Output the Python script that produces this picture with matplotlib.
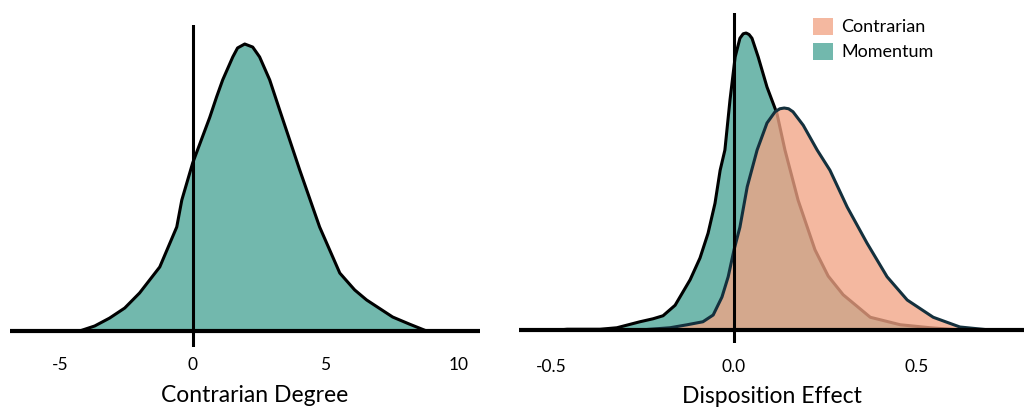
import matplotlib.pyplot as plt
from matplotlib.patches import Patch

plt.rcParams['font.family'] = ['Lato', 'DejaVu Sans']

TEAL = '#72B8AD'
SALMON = '#F1A485'

# left panel: contrarian degree density
degree_x = [-4.26, -3.69, -3.13, -2.56, -2.00, -1.24, -0.60, -0.41, 0.0, 0.64,
            0.90, 1.13, 1.51, 1.69, 1.96, 2.26, 2.52, 2.90, 3.28, 4.03,
            4.78, 5.54, 6.10, 6.55, 7.53, 8.17, 8.81]
degree_y = [0.0, 0.0028, 0.0072, 0.0128, 0.0212, 0.0357, 0.058, 0.073, 0.0937, 0.119,
            0.1305, 0.140, 0.1528, 0.1578, 0.160, 0.1583, 0.1528, 0.140, 0.123, 0.0898,
            0.058, 0.0323, 0.0229, 0.0173, 0.0078, 0.0038, 0.0]
degree_ticks = [-5, 0, 5, 10]

# right panel: disposition effect densities
mom_x = [-0.48, -0.456, -0.366, -0.320, -0.257, -0.221, -0.194, -0.161, -0.120, -0.093,
         -0.071, -0.052, -0.038, -0.025, -0.011, 0.003, 0.016, 0.025, 0.033, 0.041,
         0.049, 0.066, 0.090, 0.117, 0.139, 0.175, 0.221, 0.257, 0.298, 0.372,
         0.454, 0.536, 0.617]
mom_y = [0.0, 0.01, 0.01, 0.03, 0.11, 0.15, 0.19, 0.33, 0.67, 0.96,
         1.29, 1.69, 2.13, 2.40, 3.07, 3.64, 3.89, 3.95, 3.96, 3.94,
         3.89, 3.64, 3.24, 2.89, 2.40, 1.73, 1.07, 0.72, 0.47, 0.17,
         0.07, 0.03, 0.0]

con_x = [-0.257, -0.175, -0.128, -0.085, -0.057, -0.033, -0.016, 0.000, 0.016, 0.036,
         0.063, 0.090, 0.112, 0.125, 0.137, 0.149, 0.161, 0.189, 0.227, 0.262,
         0.309, 0.363, 0.418, 0.473, 0.544, 0.617, 0.699]
con_y = [0.0, 0.03, 0.07, 0.11, 0.20, 0.44, 0.71, 1.07, 1.37, 1.91,
         2.40, 2.76, 2.91, 2.95, 2.96, 2.95, 2.91, 2.73, 2.40, 2.13,
         1.64, 1.16, 0.71, 0.40, 0.17, 0.04, 0.0]
disp_ticks = [-0.5, 0.0, 0.5]

fig = plt.figure(figsize=(10.24, 4.08), dpi=100)

# left axes
ax1 = fig.add_axes([10 / 1024, 61 / 408, 470 / 1024, 322 / 408])
ax1.fill_between(degree_x, degree_y, 0, color=TEAL, lw=0, zorder=1)
ax1.plot(degree_x, degree_y, color='black', lw=2.2, zorder=2, solid_joinstyle='round')
ax1.axvline(0, color='black', lw=2.2, zorder=5)
ax1.axhline(0, color='black', lw=3, zorder=6)
ax1.set_xlim(-6.88, 10.82)
ax1.set_ylim(-0.00892, 0.1706)
ax1.set_xticks(degree_ticks)
ax1.set_xticklabels([str(t) for t in degree_ticks])
ax1.set_yticks([])
ax1.tick_params(axis='x', length=0, pad=7.5, labelsize=12.5)
ax1.set_xlabel('Contrarian Degree', fontsize=16.5, labelpad=8)
ax1.xaxis.label.set_x(0.521)
for s in ax1.spines.values():
    s.set_visible(False)

# right axes
ax2 = fig.add_axes([519 / 1024, 65 / 408, 505 / 1024, 330 / 408])
ax2.fill_between(mom_x, mom_y, 0, color=TEAL, lw=0, zorder=1)
ax2.plot(mom_x, mom_y, color='black', lw=2.2, zorder=2, solid_joinstyle='round')
ax2.fill_between(con_x, con_y, 0, color=SALMON, alpha=0.78, lw=0, zorder=3)
ax2.plot(con_x, con_y, color='#14303D', lw=2.2, zorder=4, solid_joinstyle='round')
ax2.axvline(0, color='black', lw=2.2, zorder=5)
ax2.axhline(0, color='black', lw=3, zorder=6)
ax2.set_xlim(-0.5874, 0.792)
ax2.set_ylim(-0.1733, 4.227)
ax2.set_xticks(disp_ticks)
ax2.set_xticklabels(['-0.5', '0.0', '0.5'])
ax2.set_yticks([])
ax2.tick_params(axis='x', length=0, pad=11.5, labelsize=12.5)
ax2.set_xlabel('Disposition Effect', fontsize=16.5, labelpad=8)
for s in ax2.spines.values():
    s.set_visible(False)

handles = [Patch(facecolor='#F4B8A0', edgecolor='none', label='Contrarian'),
           Patch(facecolor=TEAL, edgecolor='none', label='Momentum')]
ax2.legend(handles=handles, loc='upper left', bbox_to_anchor=(800 / 1024, 1 - 5 / 408),
           bbox_transform=fig.transFigure, frameon=False, fontsize=13,
           handlelength=1.1, handleheight=1.1, handletextpad=0.5, labelspacing=0.4,
           borderpad=0.2)

fig.savefig('out.png', dpi=100)
